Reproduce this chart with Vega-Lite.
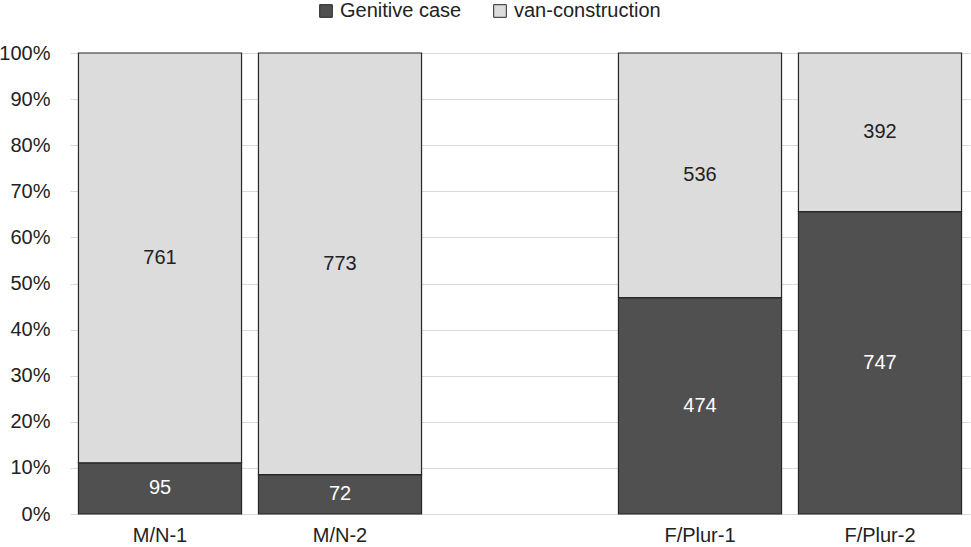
{
  "$schema": "https://vega.github.io/schema/vega-lite/v6.json",
  "autosize": "none",
  "width": 900,
  "height": 461,
  "padding": {"left": 70, "top": 53, "right": 1, "bottom": 33},
  "background": "white",
  "config": {
    "font": "Liberation Sans",
    "view": {"stroke": null}
  },
  "data": {
    "values": [
      {"cat": "M/N-1", "case": "Genitive case", "count": 95},
      {"cat": "M/N-1", "case": "van-construction", "count": 761},
      {"cat": "M/N-2", "case": "Genitive case", "count": 72},
      {"cat": "M/N-2", "case": "van-construction", "count": 773},
      {"cat": "F/Plur-1", "case": "Genitive case", "count": 474},
      {"cat": "F/Plur-1", "case": "van-construction", "count": 536},
      {"cat": "F/Plur-2", "case": "Genitive case", "count": 747},
      {"cat": "F/Plur-2", "case": "van-construction", "count": 392}
    ]
  },
  "encoding": {
    "x": {
      "field": "cat",
      "type": "nominal",
      "scale": {"domain": ["M/N-1", "M/N-2", " ", "F/Plur-1", "F/Plur-2"], "paddingInner": 0.094, "paddingOuter": 0.047},
      "axis": {"title": null, "labelAngle": 0, "ticks": false, "domain": false, "labelFontSize": 20, "labelColor": "#222222", "labelPadding": 11}
    }
  },
  "layer": [
    {
      "mark": {"type": "bar", "stroke": "#262626", "strokeWidth": 1.2},
      "encoding": {
        "y": {
          "field": "count",
          "type": "quantitative",
          "stack": "normalize",
          "scale": {"domain": [0, 1]},
          "axis": {"title": null, "format": ".0%", "values": [0, 0.1, 0.2, 0.3, 0.4, 0.5, 0.6, 0.7, 0.8, 0.9, 1], "labelOverlap": false, "ticks": false, "domain": false, "gridColor": "#d9d9d9", "gridWidth": 1.2, "labelFontSize": 20, "labelColor": "#222222", "labelPadding": 20}
        },
        "color": {
          "field": "case",
          "type": "nominal",
          "scale": {"domain": ["Genitive case", "van-construction"], "range": ["#505050", "#dcdcdc"]},
          "legend": {
            "title": null,
            "orient": "none",
            "direction": "horizontal",
            "legendX": 246,
            "legendY": -52,
            "symbolType": "square",
            "symbolSize": 160,
            "symbolStrokeColor": "#262626",
            "symbolStrokeWidth": 1,
            "labelFontSize": 20,
            "labelColor": "#222222",
            "labelOffset": 4,
            "columnPadding": 28
          }
        },
        "order": {"field": "case", "sort": "ascending"}
      }
    },
    {
      "transform": [
        {"stack": "count", "groupby": ["cat"], "offset": "normalize", "sort": [{"field": "case", "order": "ascending"}], "as": ["y0", "y1"]},
        {"fold": ["y0", "y1"], "as": ["k", "v"]}
      ],
      "mark": {"type": "text", "fontSize": 20, "baseline": "middle", "align": "center"},
      "encoding": {
        "y": {
          "field": "v",
          "type": "quantitative",
          "aggregate": "mean",
          "axis": {"title": null, "format": ".0%", "values": [0, 0.1, 0.2, 0.3, 0.4, 0.5, 0.6, 0.7, 0.8, 0.9, 1], "labelOverlap": false, "ticks": false, "domain": false, "gridColor": "#d9d9d9", "gridWidth": 1.2, "labelFontSize": 20, "labelColor": "#222222", "labelPadding": 20}
        },
        "text": {"field": "count", "type": "quantitative"},
        "detail": {"field": "case", "type": "nominal"},
        "color": {
          "condition": {"test": "datum['case'] === 'Genitive case'", "value": "#ffffff"},
          "value": "#222222"
        }
      }
    }
  ]
}
